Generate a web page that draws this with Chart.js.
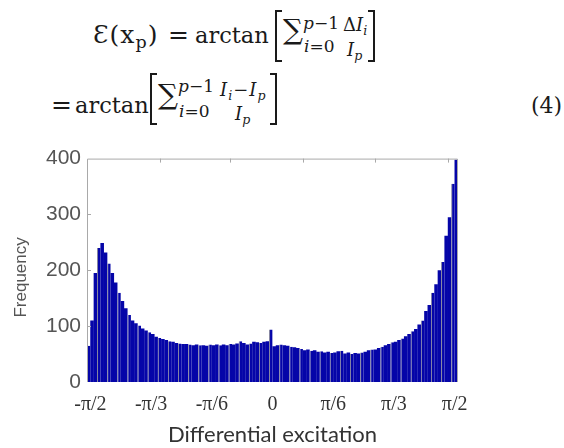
<!DOCTYPE html>
<html>
<head>
<meta charset="utf-8">
<script src="https://cdn.jsdelivr.net/npm/chart.js@4.4.0/dist/chart.umd.min.js"></script>
<style>
  html, body { margin: 0; padding: 0; background: #fff; }
  #page { position: relative; width: 564px; height: 448px; overflow: hidden; }
  .eq { position: absolute; font-family: "DejaVu Serif", serif; color: #1a1a1a; line-height: 1; white-space: nowrap; }
  .sub { font-size: 0.7em; vertical-align: -0.3em; }
  .brk { position: absolute; border: 2px solid #1a1a1a; width: 5px; height: 48px; }
  .brk.l { border-right: none; }
  .brk.r { border-left: none; }
  #chartBox { position: absolute; left: 0; top: 140px; width: 564px; height: 308px; }
</style>
</head>
<body>
<div id="page">
  <!-- equation, line 1 -->
  <span class="eq" style="left:93px;top:22px;font-size:25px;letter-spacing:1px">Ɛ(x<span class="sub">p</span>)</span>
  <span class="eq" style="left:168px;top:22px;font-size:25px">=</span>
  <span class="eq" style="left:195px;top:24px;font-size:22.5px">arctan</span>
  <div class="brk l" style="left:275px;top:10px"></div>
  <span class="eq" style="left:283px;top:16px;font-size:28px">∑</span>
  <span class="eq" style="left:303px;top:15px;font-size:17px"><i>p</i>−1</span>
  <span class="eq" style="left:304px;top:38px;font-size:17px"><i>i</i>=0</span>
  <span class="eq" style="left:343px;top:16px;font-size:18px">Δ<i>I<span class="sub">i</span></i></span>
  <span class="eq" style="left:347px;top:41px;font-size:18px"><i>I<span class="sub">p</span></i></span>
  <div class="brk r" style="left:368px;top:10px"></div>

  <!-- equation, line 2 -->
  <span class="eq" style="left:51px;top:92px;font-size:25px">=</span>
  <span class="eq" style="left:75px;top:94px;font-size:22.5px">arctan</span>
  <div class="brk l" style="left:150px;top:73px"></div>
  <span class="eq" style="left:158px;top:81px;font-size:28px">∑</span>
  <span class="eq" style="left:178px;top:78px;font-size:17px"><i>p</i>−1</span>
  <span class="eq" style="left:179px;top:103px;font-size:17px"><i>i</i>=0</span>
  <span class="eq" style="left:220px;top:81px;font-size:18px;letter-spacing:1px"><i>I<span class="sub">i</span></i>−<i>I<span class="sub">p</span></i></span>
  <span class="eq" style="left:235px;top:105px;font-size:18px"><i>I<span class="sub">p</span></i></span>
  <div class="brk r" style="left:270px;top:73px"></div>
  <span class="eq" style="left:531px;top:95px;font-size:22px">(4)</span>

  <div id="chartBox"><canvas id="histChart" width="564" height="308"></canvas></div>
</div>

<script>
// Histogram bins cover -1.6 .. 1.6 rad (the x limits of the plot)
const binMin = -1.6;
const binMax = 1.6;

// Frequency of each bin, read left to right
const frequency = [
  65, 110, 195, 240, 249, 232, 212, 195, 178, 160,
  145, 132, 120, 110, 105, 101, 96, 92, 89, 86,
  81, 79, 77, 75, 73, 72, 70, 69, 68, 68,
  67, 66, 67, 66, 66, 65, 67, 66, 67, 66,
  67, 66, 68, 67, 69, 73, 70, 67, 69, 72,
  71, 70, 72, 73, 94, 64, 66, 67, 66, 65,
  63, 62, 61, 59, 57, 58, 56, 57, 54, 55,
  53, 54, 52, 53, 55, 56, 51, 53, 50, 52,
  51, 53, 54, 57, 58, 58, 61, 63, 66, 68,
  71, 72, 75, 78, 82, 86, 91, 95, 103, 110,
  127, 138, 160, 175, 200, 215, 262, 295, 355, 398
];

// Axis ticks
const xTickValues = [-Math.PI / 2, -Math.PI / 3, -Math.PI / 6, 0, Math.PI / 6, Math.PI / 3, Math.PI / 2];
const xTickLabels = ["-π/2", "-π/3", "-π/6", "0", "π/6", "π/3", "π/2"];
const yTickValues = [0, 100, 200, 300, 400];
const topTickValues = [-0.97, -0.37, 0.26, 0.88, 1.51];

const binWidth = (binMax - binMin) / frequency.length;
const points = frequency.map((f, i) => ({ x: binMin + binWidth * (i + 0.5), y: f }));

// box around the plot with small inward ticks, like the matlab axes
const frameLines = {
  id: "frameLines",
  afterDatasetsDraw(chart) {
    const { ctx, chartArea: a, scales } = chart;
    ctx.save();
    ctx.strokeStyle = "#a9a9a9";
    ctx.lineWidth = 1;
    ctx.beginPath();
    ctx.moveTo(a.left + 0.5, a.bottom);
    ctx.lineTo(a.left + 0.5, a.top + 0.5);
    ctx.lineTo(a.right - 0.5, a.top + 0.5);
    ctx.lineTo(a.right - 0.5, a.bottom);
    yTickValues.slice(1, -1).forEach((v) => {
      const y = Math.round(scales.y.getPixelForValue(v)) + 0.5;
      ctx.moveTo(a.left, y);
      ctx.lineTo(a.left + 4, y);
    });
    topTickValues.forEach((v) => {
      const x = Math.round(scales.x.getPixelForValue(v)) + 0.5;
      ctx.moveTo(x, a.top);
      ctx.lineTo(x, a.top + 4);
    });
    ctx.stroke();
    ctx.restore();
  },
};

const ctx = document.getElementById("histChart").getContext("2d");
new Chart(ctx, {
  type: "bar",
  data: {
    datasets: [
      {
        data: points,
        backgroundColor: "#0505a8",
        borderColor: "#8585a0",
        borderWidth: (c) => (c.dataIndex % 3 === 0 ? { left: 1, right: 0, top: 0, bottom: 0 } : 0),
        borderSkipped: false,
        barPercentage: 1.06,
        categoryPercentage: 1,
      },
    ],
  },
  options: {
    responsive: false,
    animation: false,
    devicePixelRatio: 1,
    layout: { padding: { top: 13, right: 106, left: 0, bottom: 0 } },
    plugins: { legend: { display: false }, tooltip: { enabled: false } },
    scales: {
      x: {
        type: "linear",
        min: binMin,
        max: binMax,
        offset: false,
        grid: { display: false, drawTicks: false },
        border: { display: false },
        afterBuildTicks: (scale) => {
          scale.ticks = xTickValues.map((v) => ({ value: v }));
        },
        afterFit: (scale) => {
          scale.height = 66;
        },
        ticks: {
          autoSkip: false,
          maxRotation: 0,
          padding: 11,
          color: "#333",
          font: { family: "'Liberation Serif', serif", size: 20 },
          callback: (value, index) => xTickLabels[index],
        },
        title: {
          display: true,
          text: "Differential excitation",
          color: "#333",
          font: { family: "Lato, sans-serif", size: 22 },
          padding: { top: 0, bottom: 0 },
        },
      },
      y: {
        min: 0,
        max: 400,
        grid: { display: false, drawTicks: false },
        border: { display: false },
        afterBuildTicks: (scale) => {
          scale.ticks = yTickValues.map((v) => ({ value: v }));
        },
        afterFit: (scale) => {
          scale.width = 87;
        },
        ticks: {
          padding: 6,
          color: "#555",
          font: { family: "'Liberation Sans', Arial, sans-serif", size: 21 },
        },
        title: {
          display: true,
          text: "Frequency   ",
          color: "#555",
          font: { family: "'Liberation Sans', Arial, sans-serif", size: 17 },
          padding: { top: 11, bottom: 0 },
        },
      },
    },
  },
  plugins: [frameLines],
});
</script>
</body>
</html>
